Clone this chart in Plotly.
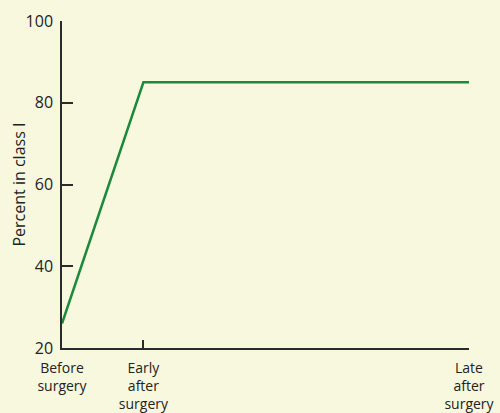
import plotly.graph_objects as go

stages = ["Before<br>surgery", "Early<br>after<br>surgery", "Late<br>after<br>surgery"]
stage_pos = [0, 1, 5]
percent_class_1 = [26, 85, 85]

y_ticks = [20, 40, 60, 80, 100]
y_title = "Percent in class I"

bg = "#f8f8de"
axis_col = "#2b2b2b"

fig = go.Figure()
fig.add_trace(go.Scatter(
    x=stage_pos, y=percent_class_1, mode="lines",
    line=dict(color="#1b8a3c", width=2.5),
    cliponaxis=False, showlegend=False,
))

fig.add_annotation(
    text=y_title, xref="paper", yref="paper", x=-0.108, y=0.5,
    xanchor="center", yanchor="middle", textangle=-90, showarrow=False,
    font=dict(size=16, color="#222"),
)

fig.update_layout(
    width=500, height=413,
    margin=dict(l=62, r=31, t=21, b=65),
    paper_bgcolor=bg, plot_bgcolor=bg,
    font=dict(family="Open Sans", size=15, color="#222"),
    xaxis=dict(
        range=[0, 5], tickvals=stage_pos, ticktext=stages,
        showgrid=False, zeroline=False, automargin=False,
        showline=True, linecolor=axis_col, linewidth=1.5,
        ticks="inside", ticklen=8, tickwidth=1.5, tickcolor=axis_col,
        tickfont=dict(size=14), ticklabelstandoff=6,
    ),
    yaxis=dict(
        range=[20, 100], tickvals=y_ticks,
        showgrid=False, zeroline=False, automargin=False,
        showline=True, linecolor=axis_col, linewidth=1.5,
        ticks="inside", ticklen=11, tickwidth=1.5, tickcolor=axis_col,
        tickfont=dict(size=16), ticklabelstandoff=4,
    ),
)

fig.write_html(
    "out.html",
    config={"displayModeBar": False},
    post_script="document.body.style.margin='0';document.body.style.background='#f8f8de';",
)
